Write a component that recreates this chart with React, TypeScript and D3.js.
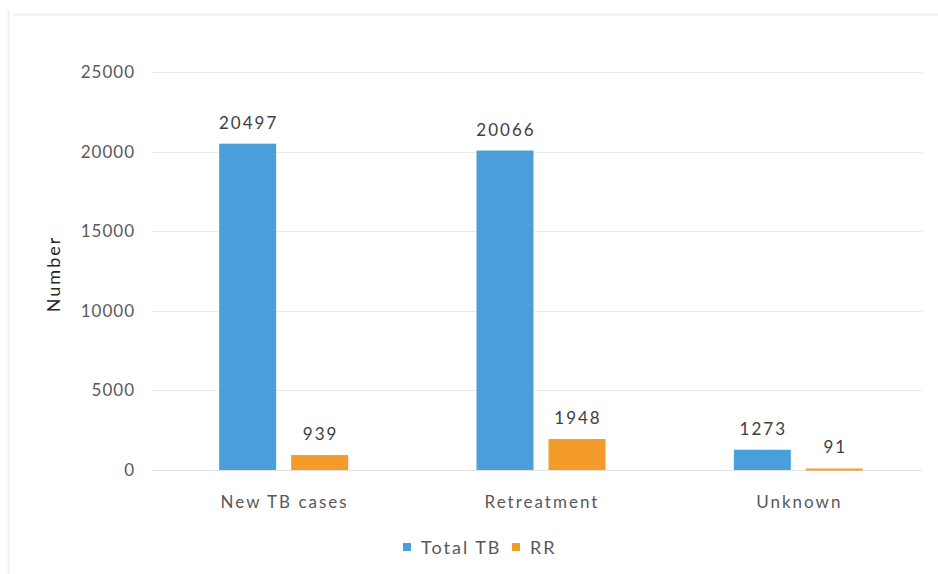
import React, { useEffect, useRef } from 'react';
import * as d3 from 'd3';

const categories = ['New TB cases', 'Retreatment', 'Unknown'];
const seriesNames = ['Total TB', 'RR'];
const totalTB = [20497, 20066, 1273];
const rr = [939, 1948, 91];
const yTicks = [0, 5000, 10000, 15000, 20000, 25000];

const colors = ['#4a9fdb', '#f39b2b'];
const font = 'Lato, "Open Sans", sans-serif';

const App: React.FC = () => {
  const svgRef = useRef<SVGSVGElement>(null);

  useEffect(() => {
    if (!svgRef.current) return;
    const svg = d3.select(svgRef.current);
    svg.selectAll('*').remove();

    const width = 938;
    const height = 574;
    const margin = { top: 72, right: 11, bottom: 103, left: 155 };

    // faint outer frame
    svg.append('line')
      .attr('x1', 8.5).attr('x2', 8.5).attr('y1', 10).attr('y2', height)
      .attr('stroke', '#f0f0f0').attr('stroke-width', 2);
    svg.append('line')
      .attr('x1', 13).attr('x2', width).attr('y1', 14.5).attr('y2', 14.5)
      .attr('stroke', '#f0f0f0').attr('stroke-width', 2);

    const x0 = d3.scaleBand<string>()
      .domain(categories)
      .range([margin.left, width - margin.right]);

    const y = d3.scaleLinear()
      .domain([0, 25000])
      .range([height - margin.bottom - 1, margin.top]);

    const groupW = 129;
    const x1 = d3.scaleBand<string>()
      .domain(seriesNames)
      .range([0, groupW])
      .paddingInner(15 / 72);

    // gridlines
    svg.append('g')
      .selectAll('line')
      .data(yTicks)
      .enter()
      .append('line')
      .attr('x1', margin.left - 3)
      .attr('x2', width - margin.right - 5)
      .attr('y1', d => Math.round(y(d)) + 0.5)
      .attr('y2', d => Math.round(y(d)) + 0.5)
      .attr('stroke', d => (d === 0 ? '#e2e2e2' : '#ececec'))
      .attr('stroke-width', 1);

    // y tick labels
    svg.append('g')
      .selectAll('text')
      .data(yTicks)
      .enter()
      .append('text')
      .attr('x', 135)
      .attr('y', d => y(d))
      .attr('dy', '0.35em')
      .attr('text-anchor', 'end')
      .attr('font-family', font)
      .attr('font-size', 17)
      .attr('letter-spacing', 1)
      .attr('fill', '#595959')
      .text(d => String(d));

    // y title
    svg.append('text')
      .attr('transform', `translate(60,274) rotate(-90)`)
      .attr('text-anchor', 'middle')
      .attr('font-family', font)
      .attr('font-size', 18)
      .attr('letter-spacing', 2)
      .attr('fill', '#262626')
      .text('Number');

    const data = categories.map((c, i) => ({ category: c, values: [totalTB[i], rr[i]] }));

    const groups = svg.append('g')
      .selectAll('g')
      .data(data)
      .enter()
      .append('g')
      .attr('transform', d => `translate(${(x0(d.category) as number) + x0.bandwidth() / 2 - groupW / 2},0)`);

    groups.selectAll('rect')
      .data(d => d.values.map((v, j) => ({ key: seriesNames[j], value: v, j })))
      .enter()
      .append('rect')
      .attr('x', d => x1(d.key) as number)
      .attr('width', x1.bandwidth())
      .attr('y', d => y(d.value))
      .attr('height', d => Math.max(2, y(0) - y(d.value)))
      .attr('fill', d => colors[d.j]);

    groups.selectAll('text.val')
      .data(d => d.values.map((v, j) => ({ key: seriesNames[j], value: v, j })))
      .enter()
      .append('text')
      .attr('class', 'val')
      .attr('x', d => (x1(d.key) as number) + x1.bandwidth() / 2 + 1)
      .attr('y', d => Math.min(y(d.value), y(0) - 2) - 15)
      .attr('text-anchor', 'middle')
      .attr('font-family', font)
      .attr('font-size', 17)
      .attr('letter-spacing', 2)
      .attr('fill', '#404040')
      .text(d => String(d.value));

    // category labels
    svg.append('g')
      .selectAll('text')
      .data(categories)
      .enter()
      .append('text')
      .attr('x', d => (x0(d) as number) + x0.bandwidth() / 2 + 1)
      .attr('y', 508)
      .attr('text-anchor', 'middle')
      .attr('font-family', font)
      .attr('font-size', 17)
      .attr('letter-spacing', 2)
      .attr('fill', '#595959')
      .text(d => d);

    // legend
    const legendX = [403, 512];
    const legend = svg.append('g');
    seriesNames.forEach((name, i) => {
      const item = legend.append('g').attr('transform', `translate(${legendX[i]},0)`);
      item.append('rect')
        .attr('x', 0).attr('y', 543)
        .attr('width', 8).attr('height', 8)
        .attr('fill', colors[i]);
      item.append('text')
        .attr('x', 18).attr('y', 554)
        .attr('font-family', font)
        .attr('font-size', 18)
        .attr('letter-spacing', 2)
        .attr('fill', '#595959')
        .text(name);
    });
  }, []);

  return (
    <svg
      ref={svgRef}
      width={938}
      height={574}
      style={{ position: 'absolute', left: 0, top: 0, display: 'block', background: '#fff' }}
    />
  );
};

export default App;
